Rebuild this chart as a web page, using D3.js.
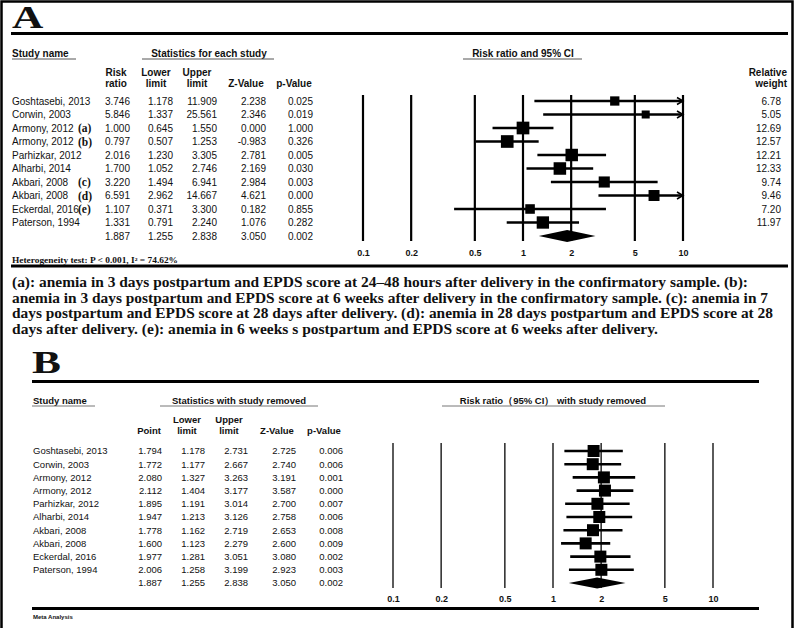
<!DOCTYPE html>
<html>
<head>
<meta charset="utf-8">
<script src="https://cdn.jsdelivr.net/npm/d3@7/dist/d3.min.js"></script>
<style>
  body { margin: 0; background: #fff; }
  svg text { font-family: "Liberation Sans", Arial, sans-serif; fill: #111; }
  .serif { font-family: "Liberation Serif", "Times New Roman", serif !important; font-weight: bold; }
</style>
</head>
<body>
<div id="chart"></div>
<script>
// ---- data: panel A (each study) ----
var studiesA = ["Goshtasebi, 2013", "Corwin, 2003", "Armony, 2012", "Armony, 2012", "Parhizkar, 2012",
                "Alharbi, 2014", "Akbari, 2008", "Akbari, 2008", "Eckerdal, 2016", "Paterson, 1994"];
var notesA = ["", "", "(a)", "(b)", "", "", "(c)", "(d)", "(e)", ""];
var rrA = [3.746, 5.846, 1.000, 0.797, 2.016, 1.700, 3.220, 6.591, 1.107, 1.331];
var lowerA = [1.178, 1.337, 0.645, 0.507, 1.230, 1.052, 1.494, 2.962, 0.371, 0.791];
var upperA = [11.909, 25.561, 1.550, 1.253, 3.305, 2.746, 6.941, 14.667, 3.300, 2.240];
var zA = ["2.238", "2.346", "0.000", "-0.983", "2.781", "2.169", "2.984", "4.621", "0.182", "1.076"];
var pA = ["0.025", "0.019", "1.000", "0.326", "0.005", "0.030", "0.003", "0.000", "0.855", "0.282"];
var weightA = [6.78, 5.05, 12.69, 12.57, 12.21, 12.33, 9.74, 9.46, 7.20, 11.97];

// pooled estimate (same in both panels)
var pooled = { point: 1.887, lower: 1.255, upper: 2.838, z: "3.050", p: "0.002" };

// ---- data: panel B (one study removed) ----
var studiesB = ["Goshtasebi, 2013", "Corwin, 2003", "Armony, 2012", "Armony, 2012", "Parhizkar, 2012",
                "Alharbi, 2014", "Akbari, 2008", "Akbari, 2008", "Eckerdal, 2016", "Paterson, 1994"];
var pointB = [1.794, 1.772, 2.080, 2.112, 1.895, 1.947, 1.778, 1.600, 1.977, 2.006];
var lowerB = [1.178, 1.177, 1.327, 1.404, 1.191, 1.213, 1.162, 1.123, 1.281, 1.258];
var upperB = [2.731, 2.667, 3.263, 3.177, 3.014, 3.126, 2.719, 2.279, 3.051, 3.199];
var zB = ["2.725", "2.740", "3.191", "3.587", "2.700", "2.758", "2.653", "2.600", "3.080", "2.923"];
var pB = ["0.006", "0.006", "0.001", "0.000", "0.007", "0.006", "0.008", "0.009", "0.002", "0.003"];

var axisTicks = [0.1, 0.2, 0.5, 1, 2, 5, 10];

var footnote = [
  "(a): anemia in 3 days postpartum and EPDS score at 24\u201348 hours after delivery in the confirmatory sample. (b):",
  "anemia in 3 days postpartum and EPDS score at 6 weeks after delivery in the confirmatory sample. (c): anemia in 7",
  "days postpartum and EPDS score at 28 days after delivery. (d): anemia in 28 days postpartum and EPDS score at 28",
  "days after delivery. (e): anemia in 6 weeks s postpartum and EPDS score at 6 weeks after delivery."
];
var footnoteWidths = [736, 756, 761, 646];

var W = 795, H = 628;
var svg = d3.select("#chart").append("svg").attr("width", W).attr("height", H);

// outer frame
svg.append("path").attr("d", "M1.5," + H + "V1.5H792.5V" + H)
  .attr("fill", "none").attr("stroke", "#000").attr("stroke-width", 2.5);

function hline(x1, x2, y, w, col) {
  svg.append("line").attr("x1", x1).attr("x2", x2).attr("y1", y).attr("y2", y)
    .attr("stroke", col || "#000").attr("stroke-width", w);
}
function txt(x, y, s, size, anchor, weight) {
  return svg.append("text").attr("x", x).attr("y", y).attr("font-size", size)
    .attr("text-anchor", anchor || "start").attr("font-weight", weight || "normal").text(s);
}
function panelLetter(x, y, s) {
  svg.append("text").attr("class", "serif").attr("font-size", 31)
    .attr("transform", "translate(" + x + "," + y + ") scale(1.4,1)").text(s);
}

function forest(cfg) {
  var x = d3.scaleLog().domain([0.1, 10]).range(cfg.xr);
  var y = d3.scaleLinear().domain([0, 10]).range(cfg.yr);
  var g = svg.append("g");

  // vertical reference lines
  g.selectAll("line.ref").data(axisTicks).enter().append("line")
    .attr("x1", function (d) { return x(d); }).attr("x2", function (d) { return x(d); })
    .attr("y1", cfg.lineTop).attr("y2", cfg.lineBottom)
    .attr("stroke", cfg.refColor).attr("stroke-width", cfg.refWidth);

  // axis labels
  var ax = d3.axisBottom(x).tickValues(axisTicks).tickSize(0).tickPadding(0)
    .tickFormat(function (d) { return String(d); });
  var axg = svg.append("g").attr("transform", "translate(0," + cfg.axisY + ")").call(ax);
  axg.select(".domain").remove();
  axg.selectAll("text").attr("font-size", 9).attr("font-weight", "bold")
    .attr("font-family", "Liberation Sans, Arial, sans-serif").attr("fill", "#111").attr("dy", "0");

  var maxX = x(10);
  var rows = d3.range(10);
  // CI lines
  g.selectAll("line.ci").data(rows).enter().append("line")
    .attr("x1", function (i) { return x(Math.max(cfg.lower[i], 0.1)); })
    .attr("x2", function (i) { return Math.min(x(cfg.upper[i]), maxX); })
    .attr("y1", function (i) { return y(i); }).attr("y2", function (i) { return y(i); })
    .attr("stroke", "#000").attr("stroke-width", 2.6);
  // arrows for truncated CIs
  g.selectAll("path.arrow").data(rows.filter(function (i) { return cfg.upper[i] > 10; })).enter()
    .append("path")
    .attr("d", function (i) { return "M" + (maxX - 6) + "," + (y(i) - 3.5) + "L" + maxX + "," + y(i) + "L" + (maxX - 6) + "," + (y(i) + 3.5); })
    .attr("fill", "none").attr("stroke", "#000").attr("stroke-width", 1.5);
  // squares
  g.selectAll("rect.pt").data(rows).enter().append("rect")
    .attr("x", function (i) { return x(cfg.point[i]) - cfg.size(i) / 2; })
    .attr("y", function (i) { return y(i) - cfg.size(i) / 2; })
    .attr("width", function (i) { return cfg.size(i); })
    .attr("height", function (i) { return cfg.size(i); })
    .attr("fill", "#000");
  // pooled diamond
  var yd = y(10);
  g.append("path")
    .attr("d", "M" + x(pooled.lower) + "," + yd + "L" + x(pooled.point) + "," + (yd - cfg.dh) +
      "L" + x(pooled.upper) + "," + yd + "L" + x(pooled.point) + "," + (yd + cfg.dh) + "Z")
    .attr("fill", "#000");

  // table
  var cols = [cfg.point, cfg.lower, cfg.upper, cfg.z, cfg.p];
  var pooledVals = [pooled.point.toFixed(3), pooled.lower.toFixed(3), pooled.upper.toFixed(3), pooled.z, pooled.p];
  cols.forEach(function (col, c) {
    rows.forEach(function (i) {
      var v = typeof col[i] === "number" ? col[i].toFixed(3) : col[i];
      txt(cfg.colX[c], y(i), v, cfg.fs, "end").attr("dy", "0.35em");
    });
    txt(cfg.colX[c], y(10), pooledVals[c], cfg.fs, "end").attr("dy", "0.35em");
  });
  rows.forEach(function (i) {
    txt(cfg.nameX, y(i), cfg.names[i], cfg.fs).attr("dy", "0.35em");
  });
  return y;
}

// ================= Panel A =================
panelLetter(12, 28, "A");
hline(11, 788, 33.5, 3);
txt(12, 56.5, "Study name", 10, "start", "bold");
hline(12, 76, 59, 1, "#555");
txt(209, 56.5, "Statistics for each study", 10, "middle", "bold");
hline(142, 274, 59, 1, "#555");
txt(523, 56.5, "Risk ratio and 95% CI", 10, "middle", "bold");
hline(463, 582, 59, 1, "#555");
[["Risk", "ratio", 116], ["Lower", "limit", 156], ["Upper", "limit", 197], ["", "Z-Value", 246], ["", "p-Value", 294]]
  .forEach(function (h) {
    txt(h[2], 75.5, h[0], 10, "middle", "bold");
    txt(h[2], 87, h[1], 10, "middle", "bold");
  });
txt(787, 75.5, "Relative", 10, "end", "bold");
txt(787, 87, "weight", 10, "end", "bold");

var sizeA = d3.scaleSqrt().domain([0, 12.69]).range([0, 12.7]);
var yA = forest({
  xr: [363, 683], yr: [101, 236], lineTop: 95, lineBottom: 241, axisY: 255.5,
  refColor: "#000", refWidth: 2.2, dh: 6,
  point: rrA, lower: lowerA, upper: upperA, z: zA, p: pA, names: studiesA,
  size: function (i) { return sizeA(weightA[i]); },
  colX: [130, 173, 217, 266, 313], nameX: 12, fs: 10
});
notesA.forEach(function (n, i) {
  if (n) svg.append("text").attr("class", "serif").attr("x", 78).attr("y", yA(i)).attr("dy", "0.35em")
    .attr("font-size", 11.5).text(n);
});
weightA.forEach(function (w, i) {
  txt(781, yA(i), w.toFixed(2), 10, "end").attr("dy", "0.35em");
});

svg.append("text").attr("class", "serif").attr("x", 12).attr("y", 263).attr("font-size", 7.5)
  .attr("textLength", 166).attr("lengthAdjust", "spacingAndGlyphs")
  .text("Heterogeneity test: P < 0.001, I\u00b2 = 74.62%");
hline(11, 788, 266, 3);

footnote.forEach(function (line, i) {
  svg.append("text").attr("class", "serif").attr("x", 12).attr("y", 287 + i * 15.5)
    .attr("font-size", 15).attr("textLength", footnoteWidths[i]).attr("lengthAdjust", "spacingAndGlyphs")
    .text(line);
});

// ================= Panel B =================
panelLetter(32, 373, "B");
hline(32, 759, 381.5, 3);
txt(33, 403.5, "Study name", 9.5, "start", "bold");
hline(32, 95, 406, 1, "#777");
txt(239, 403.5, "Statistics with study removed", 9.5, "middle", "bold");
hline(160, 318, 406, 1, "#777");
txt(553, 403.5, "Risk ratio\uff0895% CI\uff09 with study removed", 9.5, "middle", "bold");
hline(442, 665, 406, 1, "#777");
[["", "Point", 149], ["Lower", "limit", 187], ["Upper", "limit", 229], ["", "Z-Value", 277], ["", "p-Value", 324]]
  .forEach(function (h) {
    txt(h[2], 422.5, h[0], 9.5, "middle", "bold");
    txt(h[2], 434, h[1], 9.5, "middle", "bold");
  });

forest({
  xr: [393, 713], yr: [451, 583], lineTop: 443, lineBottom: 588, axisY: 601.5,
  refColor: "#333", refWidth: 1.6, dh: 5.5,
  point: pointB, lower: lowerB, upper: upperB, z: zB, p: pB, names: studiesB,
  size: function () { return 12; },
  colX: [162, 205, 248, 296, 343], nameX: 33, fs: 9.5
});
hline(32, 759, 608.5, 3);
txt(33, 619, "Meta Analysis", 6, "start", "bold");
</script>
</body>
</html>
